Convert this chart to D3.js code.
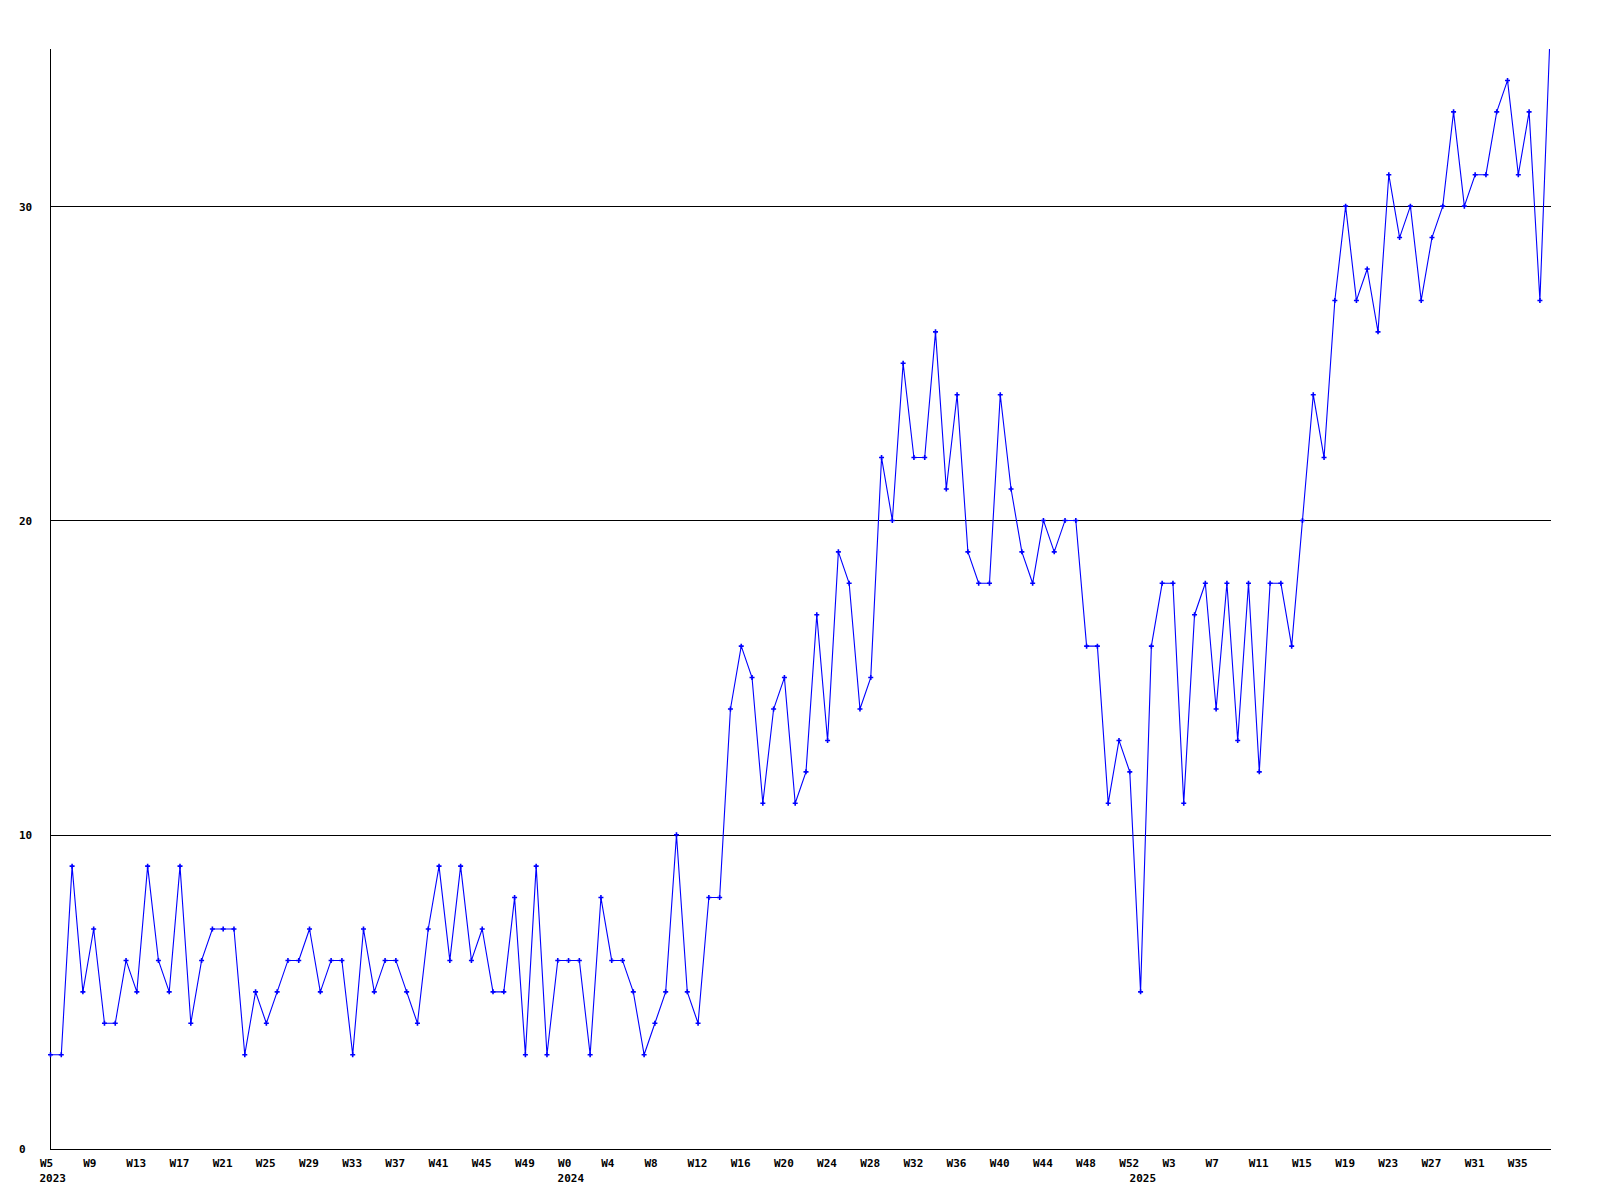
<!DOCTYPE html>
<html>
<head>
<meta charset="utf-8">
<script src="https://cdn.jsdelivr.net/npm/d3@7"></script>
<style>
  html, body { margin: 0; padding: 0; background: #fff; }
  svg { display: block; }
  text { font-family: "DejaVu Sans Mono", "Liberation Mono", monospace; font-weight: bold; font-size: 11px; fill: #000; }
</style>
</head>
<body>
<svg id="chart" width="1600" height="1200"></svg>
<script>
// ---- Data ----
const weeks2023 = ["W5","W6","W7","W8","W9","W10","W11","W12","W13","W14","W15","W16","W17","W18","W19","W20","W21","W22","W23","W24","W25","W26","W27","W28","W29","W30","W31","W32","W33","W34","W35","W36","W37","W38","W39","W40","W41","W42","W43","W44","W45","W46","W47","W48","W49","W50","W51","W52"];
const weeks2024 = ["W0","W1","W2","W3","W4","W5","W6","W7","W8","W9","W10","W11","W12","W13","W14","W15","W16","W17","W18","W19","W20","W21","W22","W23","W24","W25","W26","W27","W28","W29","W30","W31","W32","W33","W34","W35","W36","W37","W38","W39","W40","W41","W42","W43","W44","W45","W46","W47","W48","W49","W50","W51","W52"];
const weeks2025 = ["W0","W1","W2","W3","W4","W5","W6","W7","W8","W9","W10","W11","W12","W13","W14","W15","W16","W17","W18","W19","W20","W21","W22","W23","W24","W25","W26","W27","W28","W29","W30","W31","W32","W33","W34","W35","W36","W37","W38"];
const years = ["2023", "2024", "2025"];

const values = [
  3,3,9,5,7,4,4,6,5,9,6,5,9,4,6,7,7,7,3,5,4,5,6,6,7,5,
  6,6,3,7,5,6,6,5,4,7,9,6,9,6,7,5,5,8,3,9,3,6,6,6,
  3,8,6,6,5,3,4,5,10,5,4,8,8,14,16,15,11,14,15,11,12,17,13,
  19,18,14,15,22,20,25,22,22,26,21,24,19,18,18,24,21,19,18,20,19,20,20,16,16,11,13,12,
  5,16,18,18,11,17,18,14,18,13,18,12,18,18,16,20,
  24,22,27,30,27,28,26,31,29,30,27,29,30,33,30,31,31,33,34,31,33,27,36
];

const yTicks = [0, 10, 20, 30];
const yMax = 35;
const tickEvery = 4;

// ---- Build categories ----
const categories = [];
[weeks2023, weeks2024, weeks2025].forEach((wk, yi) => {
  wk.forEach(w => categories.push({ key: years[yi] + "-" + w, week: w, year: years[yi] }));
});
const data = categories.map((c, i) => ({ key: c.key, week: c.week, year: c.year, value: values[i] }));

// ---- Layout ----
const pLeft = 50.5, pRight = 1550.7, pTop = 49, pBottom = 1149;

const svg = d3.select("#chart");

const x = d3.scalePoint().domain(data.map(d => d.key)).range([pLeft, pRight]);
const y = d3.scaleLinear().domain([0, yMax]).range([pBottom, pTop]);

// clip
svg.append("defs").append("clipPath").attr("id", "plotclip")
  .append("rect").attr("x", pLeft - 4).attr("y", pTop).attr("width", pRight - pLeft + 8).attr("height", pBottom - pTop + 4);

// gridlines
svg.append("g").selectAll("line").data(yTicks.filter(t => t > 0)).join("line")
  .attr("x1", pLeft).attr("x2", pRight)
  .attr("y1", d => Math.round(y(d)) + 0.5).attr("y2", d => Math.round(y(d)) + 0.5)
  .attr("stroke", "#000").attr("stroke-width", 1).attr("shape-rendering", "crispEdges");

// y axis
const yAxisG = svg.append("g").attr("transform", `translate(${pLeft},0)`)
  .call(d3.axisLeft(y).tickValues(yTicks).tickSize(0).tickFormat(d3.format("d")));
yAxisG.select(".domain").remove();
yAxisG.selectAll("text")
  .attr("x", 19 - pLeft).attr("dy", "0.35em").attr("text-anchor", "start")
  .style("font-family", "DejaVu Sans Mono").style("font-weight", "bold").style("font-size", "11px").attr("fill", "#000");

// x axis
const tickKeys = data.filter((d, i) => i % tickEvery === 0).map(d => d.key);
const weekOf = new Map(data.map(d => [d.key, d.week]));
const xAxisG = svg.append("g").attr("transform", `translate(0,${pBottom})`)
  .call(d3.axisBottom(x).tickValues(tickKeys).tickSize(0).tickFormat(k => weekOf.get(k)));
xAxisG.select(".domain").remove();
xAxisG.selectAll("text")
  .attr("x", -11).attr("y", 17.5).attr("dy", 0).attr("text-anchor", "start")
  .style("font-family", "DejaVu Sans Mono").style("font-weight", "bold").style("font-size", "11px").attr("fill", "#000");

// year labels at first point of each year
const firstOfYear = years.map(yr => data.find(d => d.year === yr));
svg.append("g").selectAll("text").data(firstOfYear).join("text")
  .attr("x", d => x(d.key) - 11).attr("y", pBottom + 32.5)
  .attr("text-anchor", "start")
  .text(d => d.year);

// axis lines
svg.append("line").attr("x1", pLeft).attr("x2", pLeft).attr("y1", pTop).attr("y2", pBottom + 0.5)
  .attr("stroke", "#000").attr("shape-rendering", "crispEdges");
svg.append("line").attr("x1", pLeft).attr("x2", pRight).attr("y1", pBottom + 0.5).attr("y2", pBottom + 0.5)
  .attr("stroke", "#000").attr("shape-rendering", "crispEdges");

// series line
const plot = svg.append("g").attr("clip-path", "url(#plotclip)");
plot.append("path").datum(data)
  .attr("fill", "none").attr("stroke", "#0000ff").attr("stroke-width", 1.1)
  .attr("d", d3.line().x(d => x(d.key)).y(d => y(d.value)));

// markers (small crosses)
plot.selectAll("path.mk").data(data).join("path").attr("class", "mk")
  .attr("transform", d => `translate(${x(d.key)},${y(d.value)})`)
  .attr("d", "M-2.5,0H2.5M0,-2.5V2.5")
  .attr("stroke", "#0000ff").attr("stroke-width", 1.6).attr("fill", "none");
</script>
</body>
</html>
